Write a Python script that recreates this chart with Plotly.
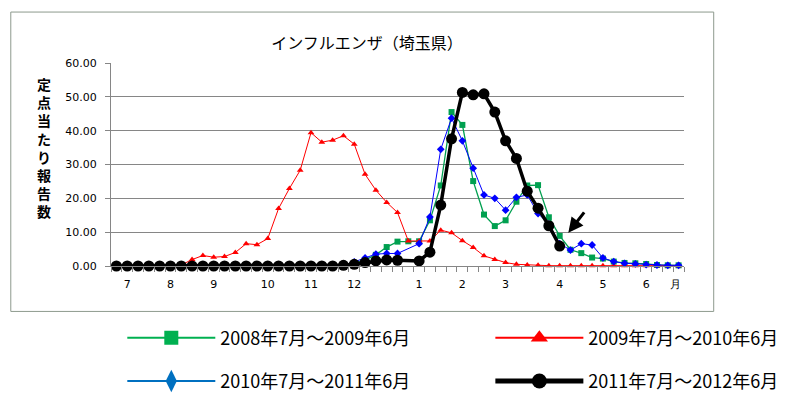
import plotly.graph_objects as go

# ---- data ----
weeks = list(range(53))
tick_pos = [1, 5, 9, 14, 18, 22, 28, 32, 36, 41, 45, 49, 51.7]
tick_text = ["7", "8", "9", "10", "11", "12", "1", "2", "3", "4", "5", "6", "月"]

s2008 = [0.0]*20 + [0.1, 0.2, 0.8, 1.8, 3.3, 5.6, 7.2, 7.3, 7.3, 13.5, 23.8, 45.5, 41.7,
         25.1, 15.2, 11.8, 13.5, 19.0, 23.8, 23.9, 14.4, 8.9, 4.8, 3.8, 2.5, 2.2, 1.3,
         0.9, 0.8, 0.6, 0.3, 0.2, 0.2]
s2009 = [0.0]*6 + [0.3, 1.9, 3.1, 2.6, 2.8, 4.0, 6.6, 6.3, 8.1, 17.0, 22.9, 28.3, 39.4,
         36.6, 37.2, 38.5, 36.0, 27.1, 22.4, 18.8, 15.8, 7.4, 7.4, 7.4, 10.6, 9.8, 7.5,
         5.5, 3.0, 1.9, 1.0, 0.5, 0.3, 0.2] + [0.1]*13
s2010 = [0.0]*21 + [0.3, 1.2, 2.4, 3.5, 3.7, 3.7, None, 6.6, 14.5, 34.5, 43.7, 37.0, 28.9,
         21.0, 20.0, 16.5, 20.3, 21.0, 15.5, 12.4, 6.6, 4.7, 6.6, 6.2, 2.4, 1.3, 0.8,
         0.6, 0.4, 0.3, 0.2, 0.2]
s2011 = [0.0]*21 + [0.2, 0.5, 1.0, 1.5, 1.8, 1.7, None, 1.5, 4.1, 18.0, 37.6, 51.3, 50.6,
         50.9, 45.5, 37.0, 31.8, 22.1, 17.1, 11.9, 5.9] + [None]*11

names = ["2008年7月～2009年6月", "2009年7月～2010年6月",
         "2010年7月～2011年6月", "2011年7月～2012年6月"]

# ---- geometry (page pixels; the page body adds an 8px offset) ----
OFF = 8
W, H = 793 - OFF, 393 - OFF
L, R, T, B = 110.7 - OFF, 683.6 - OFF, 63.3 - OFF, 265.7 - OFF
pw, ph = R - L, B - T
def px(x): return (x - OFF - L) / pw
def py(y): return (B - (y - OFF)) / ph

JP = "Noto Sans CJK JP"
GRID = "#868686"

fig = go.Figure()

plot_styles = [
    (s2008, "#00A050", 1.3, "square", 6),
    (s2009, "#FF0000", 1.0, "triangle-up", 6),
    (s2010, "#0000FF", 1.0, "diamond", 6),
    (s2011, "#000000", 3.5, "circle", 11),
]
for ys, col, lw, sym, ms in plot_styles:
    fig.add_trace(go.Scatter(
        x=weeks, y=ys, mode="lines+markers", connectgaps=True,
        line=dict(color=col, width=lw),
        marker=dict(symbol=sym, size=ms, color=col),
        showlegend=False, cliponaxis=False, hoverinfo="skip"))

legend_styles = [
    (names[0], "#00B050", 2, "square", 14, "legend"),
    (names[2], "#0070C0", 2, "diamond-tall", 16, "legend"),
    (names[1], "#FF0000", 2, "triangle-up", 15, "legend2"),
    (names[3], "#000000", 5, "circle", 15, "legend2"),
]
for i, (nm, col, lw, sym, ms, lg) in enumerate(legend_styles):
    fig.add_trace(go.Scatter(
        x=[None], y=[None], mode="lines+markers", name=nm,
        line=dict(color=col, width=lw),
        marker=dict(symbol=sym, size=ms, color=col),
        legend=lg, legendgroup="g%d" % i, showlegend=True))

legend_common = dict(
    orientation="v", xanchor="left", yanchor="top",
    font=dict(family=JP, size=18, color="#000000"),
    itemwidth=88, tracegroupgap=17, bgcolor="rgba(0,0,0,0)",
    itemclick=False, itemdoubleclick=False)

fig.update_layout(
    width=W, height=H,
    margin=dict(l=L, r=W - R, t=T, b=H - B, pad=0, autoexpand=False),
    paper_bgcolor="white", plot_bgcolor="white",
    title=dict(text="インフルエンザ（埼玉県）", xref="container", yref="container",
               x=(367 - OFF) / W, y=1 - (43 - OFF) / H, xanchor="center",
               yanchor="middle",
               font=dict(family=JP, size=16, color="#000000")),
    xaxis=dict(range=[-0.5, 52.5], tickmode="array", tickvals=tick_pos,
               ticktext=tick_text, ticks="outside", ticklen=5,
               tickcolor="rgba(0,0,0,0)", showgrid=False, zeroline=False,
               showline=True, linecolor=GRID, linewidth=1, ticklabelstandoff=3,
               tickfont=dict(family="DejaVu Sans", size=11, color="#000000"),
               minor=dict(tickmode="linear", tick0=-0.5, dtick=1, ticks="outside",
                          ticklen=5, tickcolor=GRID, showgrid=False)),
    yaxis=dict(range=[0, 60], dtick=10, tickformat=".2f", ticks="outside",
               ticklen=5, tickcolor=GRID, showgrid=True, gridcolor=GRID,
               gridwidth=1, zeroline=False, showline=True, linecolor=GRID,
               linewidth=1, ticklabelstandoff=6,
               tickfont=dict(family="DejaVu Sans", size=11, color="#000000")),
    legend=dict(x=px(122), y=py(319), **legend_common),
    legend2=dict(x=px(490), y=py(319), **legend_common),
    showlegend=True,
)

# y-axis title (vertical stacked characters)
fig.add_annotation(
    text="<b>" + "<br>".join(list("定点当たり報告数")) + "</b>",
    xref="paper", yref="paper",
    x=px(44), y=py(148), xanchor="center", yanchor="middle", showarrow=False,
    font=dict(family=JP, size=14, color="#000000"))

# arrow pointing at the latest value
fig.add_annotation(
    x=41.8, y=9.8, xref="x", yref="y", ax=17, ay=-22, axref="pixel", ayref="pixel",
    text="", showarrow=True, arrowhead=2, arrowsize=1, arrowwidth=3,
    arrowcolor="#000000")

# chart-area border
fig.add_shape(type="rect", xref="paper", yref="paper",
              x0=px(10.5), x1=px(713.3), y0=py(311), y1=py(12.5),
              line=dict(color="#8d9a8d", width=1), fillcolor="rgba(0,0,0,0)",
              layer="below")

fig.write_html("out.html")
